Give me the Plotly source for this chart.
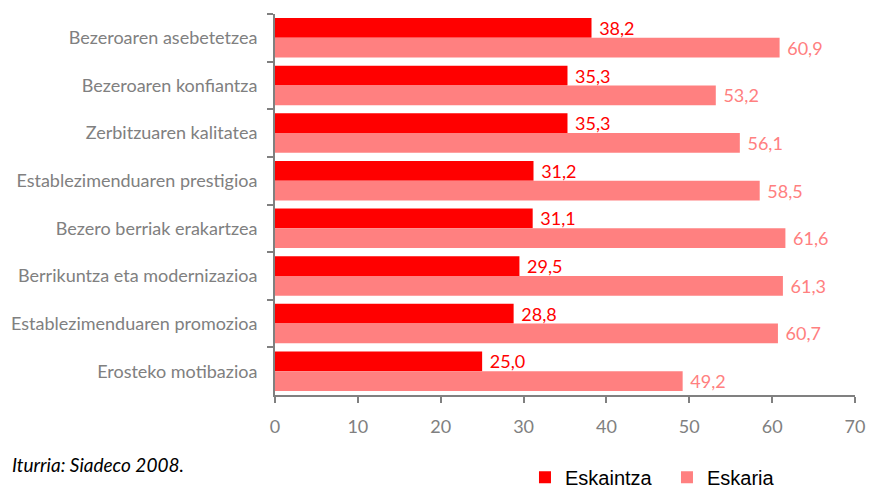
import plotly.graph_objects as go

categories = [
    "Bezeroaren asebetetzea",
    "Bezeroaren konfiantza",
    "Zerbitzuaren kalitatea",
    "Establezimenduaren prestigioa",
    "Bezero berriak erakartzea",
    "Berrikuntza eta modernizazioa",
    "Establezimenduaren promozioa",
    "Erosteko motibazioa",
]
eskaintza = [38.2, 35.3, 35.3, 31.2, 31.1, 29.5, 28.8, 25.0]
eskaria = [60.9, 53.2, 56.1, 58.5, 61.6, 61.3, 60.7, 49.2]
x_ticks = [0, 10, 20, 30, 40, 50, 60, 70]

RED = "#FF0000"
PINK = "#FF8080"
GRAY = "#808080"
FONT = "Lato, 'Open Sans', sans-serif"


def fmt(v):
    return " " + f"{v:.1f}".replace(".", ",")


fig = go.Figure()
fig.add_trace(go.Bar(
    y=categories, x=eskaintza, orientation="h", name="Eskaintza",
    marker=dict(color=RED, line=dict(width=0)),
    text=[fmt(v) for v in eskaintza], textposition="outside", constraintext="none",
    textfont=dict(color=RED, size=18, family=FONT), cliponaxis=False,
))
fig.add_trace(go.Bar(
    y=categories, x=eskaria, orientation="h", name="Eskaria",
    marker=dict(color=PINK, line=dict(width=0)),
    text=[fmt(v) for v in eskaria], textposition="outside", constraintext="none",
    textfont=dict(color=PINK, size=18, family=FONT), cliponaxis=False,
))

fig.update_layout(
    width=869, height=488,
    margin=dict(l=275, r=14, t=14, b=93, autoexpand=False),
    paper_bgcolor="white", plot_bgcolor="white",
    barmode="group", bargap=0.17, bargroupgap=0,
    font=dict(family=FONT, color=GRAY, size=18),
    showlegend=True,
    legend=dict(
        orientation="h", x=0.431, y=-0.165, xanchor="left", yanchor="top",
        font=dict(family="'Liberation Sans', Arial, sans-serif", size=20, color="black"),
        traceorder="normal", entrywidth=97, entrywidthmode="pixels",
    ),
    xaxis=dict(
        range=[0, 70], tickvals=x_ticks, ticktext=[str(t) for t in x_ticks],
        showgrid=False, zeroline=False,
        showline=True, linecolor=GRAY, linewidth=2,
        ticks="outside", ticklen=6, tickwidth=2, tickcolor=GRAY,
        tickfont=dict(size=18, color=GRAY, family=FONT),
        ticklabelstandoff=8, automargin=False,
    ),
    yaxis=dict(
        autorange="reversed", showgrid=False, zeroline=False,
        showline=True, linecolor=GRAY, linewidth=2,
        ticks="outside", tickson="boundaries", ticklen=6, tickwidth=2, tickcolor=GRAY,
        tickfont=dict(size=18, color=GRAY, family=FONT),
        ticklabelstandoff=12, automargin=False,
    ),
    annotations=[dict(
        text="<i>Iturria: Siadeco 2008.</i>", xref="paper", yref="paper",
        x=-0.457, y=-0.147, xanchor="left", yanchor="top", showarrow=False,
        font=dict(size=19, color="black", family=FONT),
    )],
)

fig.write_html(
    "out.html",
    config={"displayModeBar": False},
    post_script="document.body.style.margin='0';document.body.style.overflow='hidden';",
)
